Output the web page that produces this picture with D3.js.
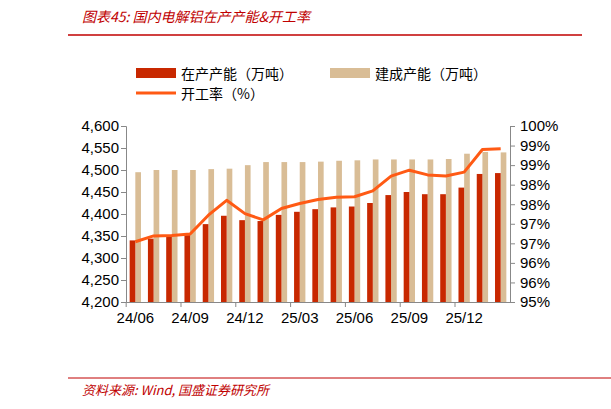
<!DOCTYPE html><html><head><meta charset="utf-8"><script src="https://cdn.jsdelivr.net/npm/d3@7"></script>
<style>body{margin:0;background:#fff}text{font-family:"Noto Sans CJK SC","Liberation Sans",sans-serif}</style></head><body>
<svg id="c" width="611" height="409"></svg>
<script>
const months=["24/06","24/07","24/08","24/09","24/10","24/11","24/12","25/01","25/02","25/03","25/04","25/05","25/06","25/07","25/08","25/09","25/10","25/11","25/12","26/01","26/02"];
const tickLabels=["24/06","24/09","24/12","25/03","25/06","25/09","25/12"];
const running=[4340,4344,4348,4352,4377,4396,4386,4384,4398,4405,4411,4415,4417,4425,4443,4450,4445,4445,4460,4491,4493];
const built=[4495,4500,4500,4500,4502,4503,4511,4518,4518,4518,4519,4521,4522,4524,4524,4524,4524,4525,4537,4541,4540];
const rate=[97.04,97.19,97.2,97.24,97.72,98.1,97.76,97.6,97.89,98.02,98.12,98.18,98.19,98.34,98.72,98.87,98.75,98.72,98.82,99.4,99.42];
const svg=d3.select("#c");
const L=126,R=510,T=126,B=302;
const red="#C82800",beige="#D9BD96",orange="#FF5A14";
svg.append("text").attr("x",82).attr("y",22).attr("fill","#C00000").attr("font-size",14).attr("font-style","italic").text("图表45:  国内电解铝在产产能&开工率");
svg.append("line").attr("x1",68).attr("x2",582).attr("y1",35).attr("y2",35).attr("stroke","#C00000").attr("stroke-width",1.5);
svg.append("line").attr("x1",68).attr("x2",611).attr("y1",378).attr("y2",378).attr("stroke","#C00000").attr("stroke-width",1);
svg.append("text").attr("x",82).attr("y",395).attr("fill","#C00000").attr("font-size",13).attr("font-style","italic").text("资料来源:  Wind, 国盛证券研究所");
const x=d3.scaleBand().domain(months).range([L,R]).paddingInner(0.38).paddingOuter(0.2);
const y=d3.scaleLinear().domain([4200,4600]).range([B,T]);
const y2=d3.scaleLinear().domain([95.5,100]).range([B,T]);
const bw=x.bandwidth()/2;
svg.selectAll(".b").data(built).join("rect").attr("x",(d,i)=>x(months[i])+bw).attr("width",bw).attr("y",d=>y(d)).attr("height",d=>B-y(d)).attr("fill",beige);
svg.selectAll(".r").data(running).join("rect").attr("x",(d,i)=>x(months[i])).attr("width",bw).attr("y",d=>y(d)).attr("height",d=>B-y(d)).attr("fill",red);
svg.append("path").datum(rate).attr("fill","none").attr("stroke",orange).attr("stroke-width",3).attr("stroke-linejoin","round")
 .attr("d",d3.line().x((d,i)=>x(months[i])+bw).y(d=>y2(d)));
const ax=svg.append("g").attr("transform",`translate(${L},0)`).call(d3.axisLeft(y).tickValues(d3.range(4200,4601,50)).tickFormat(d3.format(",")).tickSize(5));
ax.selectAll("text").attr("font-size",15).attr("fill","#000").attr("x",-7).style("font-family","Liberation Sans");
const ax2=svg.append("g").attr("transform",`translate(${R},0)`).call(d3.axisRight(y2).tickValues(d3.range(95.5,100.01,0.5)).tickFormat(d=>Math.floor(d+1e-9)+"%").tickSize(5));
ax2.selectAll("text").attr("font-size",15).attr("fill","#000").attr("x",10).style("font-family","Liberation Sans");
const axb=svg.append("g").attr("transform",`translate(0,${B})`).call(d3.axisBottom(x).tickValues(tickLabels).tickSize(0));
axb.selectAll("text").attr("font-size",15).attr("fill","#000").attr("dy","1.2em").style("font-family","Liberation Sans");
axb.selectAll(".tk").data(tickLabels).join("line").attr("x1",d=>x(d)-x.step()*0.19).attr("x2",d=>x(d)-x.step()*0.19).attr("y1",0).attr("y2",5).attr("stroke","#888");
[ax,ax2,axb].forEach(a=>a.selectAll("path,line").attr("stroke","#888"));
const lg=svg.append("g").attr("font-size",14);
lg.append("rect").attr("x",136).attr("y",68).attr("width",40).attr("height",10).attr("fill",red);
lg.append("text").attr("x",181).attr("y",79).text("在产产能（万吨）");
lg.append("rect").attr("x",330).attr("y",68).attr("width",40).attr("height",10).attr("fill",beige);
lg.append("text").attr("x",375).attr("y",79).text("建成产能（万吨）");
lg.append("line").attr("x1",136).attr("x2",176).attr("y1",93).attr("y2",93).attr("stroke",orange).attr("stroke-width",3);
lg.append("text").attr("x",181).attr("y",99).text("开工率（%）");
</script></body></html>
